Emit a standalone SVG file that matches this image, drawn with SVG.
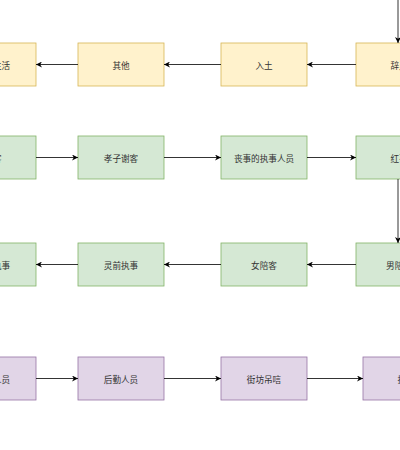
<svg xmlns="http://www.w3.org/2000/svg" width="400" height="450" viewBox="0 0 400 450">
<defs>
<marker id="ah" viewBox="0 0 10 10" refX="10" refY="5" markerWidth="6" markerHeight="6" markerUnits="userSpaceOnUse" orient="auto">
<path d="M0,0 L10,5 L0,10 L3,5 Z" fill="#000"/>
</marker>
<style>
.y{fill:#fff2cc;stroke:#d6b656;stroke-width:0.8}
.g{fill:#d5e8d4;stroke:#82b366;stroke-width:0.8}
.p{fill:#e1d5e7;stroke:#9673a6;stroke-width:0.8}
text{font-family:"Noto Sans CJK SC","Noto Sans",sans-serif;font-size:8.6px;fill:#333;text-anchor:middle;dominant-baseline:central}
.c line{stroke:#000;stroke-width:0.8;marker-end:url(#ah)}
</style>
</defs>
<rect width="400" height="450" fill="#fff"/>
<g id="r1c0"><rect class="y" x="-50" y="43" width="86" height="43"/><text x="-7" y="64.5">恢复生活</text></g>
<g id="r1c1"><rect class="y" x="78" y="43" width="86" height="43"/><text x="121" y="64.5">其他</text></g>
<g id="r1c2"><rect class="y" x="221" y="43" width="86" height="43"/><text x="264" y="64.5">入土</text></g>
<g id="r1c3"><rect class="y" x="356" y="43" width="86" height="43"/><text x="399" y="64.5">辞灵</text></g>
<g id="r2c0"><rect class="g" x="-50" y="136" width="86" height="43"/><text x="-7" y="157.5">迎客</text></g>
<g id="r2c1"><rect class="g" x="78" y="136" width="86" height="43"/><text x="121" y="157.5">孝子谢客</text></g>
<g id="r2c2"><rect class="g" x="221" y="136" width="86" height="43"/><text x="264" y="157.5">丧事的执事人员</text></g>
<g id="r2c3"><rect class="g" x="356" y="136" width="86" height="43"/><text x="399" y="157.5">红事</text></g>
<g id="r3c0"><rect class="g" x="-50" y="243" width="86" height="43"/><text x="-7" y="264.5">门口执事</text></g>
<g id="r3c1"><rect class="g" x="78" y="243" width="86" height="43"/><text x="121" y="264.5">灵前执事</text></g>
<g id="r3c2"><rect class="g" x="221" y="243" width="86" height="43"/><text x="264" y="264.5">女陪客</text></g>
<g id="r3c3"><rect class="g" x="356" y="243" width="86" height="43"/><text x="399" y="264.5">男陪客</text></g>
<g id="r4c0"><rect class="p" x="-50" y="357" width="86" height="43"/><text x="-7" y="378.5">厨房人员</text></g>
<g id="r4c1"><rect class="p" x="78" y="357" width="86" height="43"/><text x="121" y="378.5">后勤人员</text></g>
<g id="r4c2"><rect class="p" x="221" y="357" width="86" height="43"/><text x="264" y="378.5">街坊吊唁</text></g>
<g id="r4c3"><rect class="p" x="363" y="357" width="86" height="43"/><text x="406" y="378.5">执事</text></g>
<g class="c" id="connectors">
<line x1="398" y1="0" x2="398" y2="43"/>
<line x1="356" y1="64.5" x2="307" y2="64.5"/>
<line x1="221" y1="64.5" x2="164" y2="64.5"/>
<line x1="78" y1="64.5" x2="36" y2="64.5"/>
<line x1="36" y1="157.5" x2="78" y2="157.5"/>
<line x1="164" y1="157.5" x2="221" y2="157.5"/>
<line x1="307" y1="157.5" x2="356" y2="157.5"/>
<line x1="398" y1="179" x2="398" y2="243"/>
<line x1="356" y1="264.5" x2="307" y2="264.5"/>
<line x1="221" y1="264.5" x2="164" y2="264.5"/>
<line x1="78" y1="264.5" x2="36" y2="264.5"/>
<line x1="36" y1="378.5" x2="78" y2="378.5"/>
<line x1="164" y1="378.5" x2="221" y2="378.5"/>
<line x1="307" y1="378.5" x2="363" y2="378.5"/>
</g>
</svg>
